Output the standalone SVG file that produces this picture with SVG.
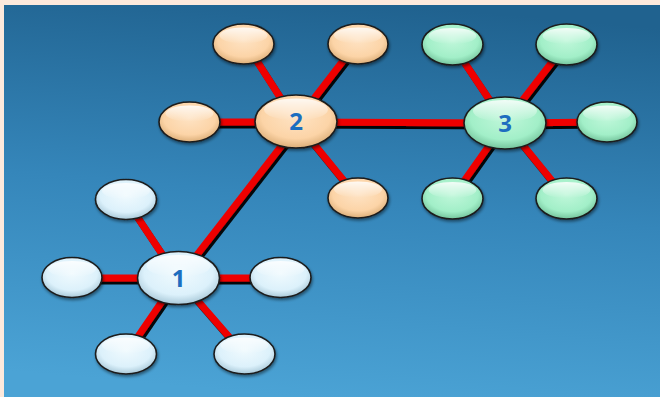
<svg xmlns="http://www.w3.org/2000/svg" width="660" height="397" viewBox="0 0 660 397">
  <defs>
    <linearGradient id="bg" x1="0.6" y1="0" x2="0.45" y2="1">
      <stop offset="0" stop-color="#20628f"/>
      <stop offset="0.5" stop-color="#3586ba"/>
      <stop offset="1" stop-color="#4ba3d5"/>
    </linearGradient>
    <radialGradient id="gPeach" cx="0.5" cy="0.4" r="0.6">
      <stop offset="0" stop-color="#fee3c4"/>
      <stop offset="0.7" stop-color="#fcd4a7"/>
      <stop offset="1" stop-color="#dcae78"/>
    </radialGradient>
    <radialGradient id="gMint" cx="0.5" cy="0.4" r="0.6">
      <stop offset="0" stop-color="#c0f7da"/>
      <stop offset="0.7" stop-color="#a2efc8"/>
      <stop offset="1" stop-color="#74c49c"/>
    </radialGradient>
    <radialGradient id="gIce" cx="0.5" cy="0.4" r="0.6">
      <stop offset="0" stop-color="#f0fafe"/>
      <stop offset="0.7" stop-color="#dcf1fb"/>
      <stop offset="1" stop-color="#a9c9d9"/>
    </radialGradient>
    <linearGradient id="gloss" x1="0" y1="0" x2="0" y2="1">
      <stop offset="0" stop-color="#ffffff" stop-opacity="0.85"/>
      <stop offset="1" stop-color="#ffffff" stop-opacity="0"/>
    </linearGradient>
    <filter id="lineShadow" x="-10%" y="-10%" width="120%" height="120%">
      <feDropShadow dx="2" dy="3" stdDeviation="0.6" flood-color="#000000" flood-opacity="0.95"/>
    </filter>
    <filter id="nodeShadow" x="-20%" y="-20%" width="140%" height="150%">
      <feDropShadow dx="1" dy="2" stdDeviation="1.5" flood-color="#000000" flood-opacity="0.45"/>
    </filter>
  </defs>
  <style>
    .edge { stroke: #ee0000; stroke-width: 7; stroke-linecap: butt; fill: none; }
    .node ellipse.body { stroke: #1c1c1c; stroke-width: 1.6; filter: url(#nodeShadow); }
    .peach ellipse.body { fill: url(#gPeach); }
    .mint ellipse.body { fill: url(#gMint); }
    .ice ellipse.body { fill: url(#gIce); }
    ellipse.hl { fill: url(#gloss); }
    .label { font-family: "Open Sans", "Liberation Sans", Arial, sans-serif; font-weight: bold; font-size: 24px; fill: #1d6ec0; text-anchor: middle; }
  </style>

  <!-- frame and backdrop -->
  <rect x="0" y="0" width="660" height="397" fill="#fde9dc"/>
  <rect x="4" y="5" width="656" height="392" fill="url(#bg)"/>

  <!-- connectors -->
  <g id="connectors" filter="url(#lineShadow)">
    <line class="edge" x1="179" y1="278" x2="300" y2="122"/>
    <line class="edge" x1="296" y1="122" x2="505" y2="123"/>
    <!-- hub 1 spokes -->
    <line class="edge" x1="178" y1="278" x2="126" y2="200"/>
    <line class="edge" x1="178" y1="278" x2="72" y2="278"/>
    <line class="edge" x1="178" y1="278" x2="281" y2="278"/>
    <line class="edge" x1="178" y1="278" x2="126" y2="354"/>
    <line class="edge" x1="178" y1="278" x2="244" y2="354"/>
    <!-- hub 2 spokes -->
    <line class="edge" x1="296" y1="122" x2="246" y2="44"/>
    <line class="edge" x1="296" y1="122" x2="356" y2="44"/>
    <line class="edge" x1="296" y1="122" x2="190" y2="122"/>
    <line class="edge" x1="296" y1="122" x2="358" y2="198"/>
    <!-- hub 3 spokes -->
    <line class="edge" x1="505" y1="123" x2="452" y2="44"/>
    <line class="edge" x1="505" y1="123" x2="566" y2="44"/>
    <line class="edge" x1="505" y1="123" x2="607" y2="122"/>
    <line class="edge" x1="505" y1="123" x2="452" y2="198"/>
    <line class="edge" x1="505" y1="123" x2="566" y2="198"/>
  </g>

  <!-- cluster 1 -->
  <g id="n1" class="node ice"><ellipse class="body" cx="178.5" cy="278" rx="41" ry="26.5"/><ellipse class="hl" cx="178.5" cy="266" rx="32" ry="11"/><text class="label" x="178.5" y="286.5">1</text></g>
  <g id="n1a" class="node ice"><ellipse class="body" cx="126" cy="199.5" rx="30.5" ry="20"/><ellipse class="hl" cx="126" cy="191" rx="24" ry="8"/></g>
  <g id="n1b" class="node ice"><ellipse class="body" cx="72" cy="277.5" rx="30" ry="20"/><ellipse class="hl" cx="72" cy="269" rx="24" ry="8"/></g>
  <g id="n1c" class="node ice"><ellipse class="body" cx="280.5" cy="277.5" rx="30.5" ry="20"/><ellipse class="hl" cx="280.5" cy="269" rx="24" ry="8"/></g>
  <g id="n1d" class="node ice"><ellipse class="body" cx="126" cy="354" rx="30.5" ry="20"/><ellipse class="hl" cx="126" cy="345.5" rx="24" ry="8"/></g>
  <g id="n1e" class="node ice"><ellipse class="body" cx="244.5" cy="354" rx="30.5" ry="20"/><ellipse class="hl" cx="244.5" cy="345.5" rx="24" ry="8"/></g>

  <!-- cluster 2 -->
  <g id="n2" class="node peach"><ellipse class="body" cx="296" cy="121.5" rx="41" ry="26.5"/><ellipse class="hl" cx="296" cy="109.5" rx="32" ry="11"/><text class="label" x="296" y="130">2</text></g>
  <g id="n2a" class="node peach"><ellipse class="body" cx="243.5" cy="44" rx="30.5" ry="20"/><ellipse class="hl" cx="243.5" cy="35.5" rx="24" ry="8"/></g>
  <g id="n2b" class="node peach"><ellipse class="body" cx="358" cy="44" rx="30" ry="20"/><ellipse class="hl" cx="358" cy="35.5" rx="24" ry="8"/></g>
  <g id="n2c" class="node peach"><ellipse class="body" cx="189.5" cy="122" rx="30.5" ry="20"/><ellipse class="hl" cx="189.5" cy="113.5" rx="24" ry="8"/></g>
  <g id="n2d" class="node peach"><ellipse class="body" cx="358" cy="198" rx="30" ry="20"/><ellipse class="hl" cx="358" cy="189.5" rx="24" ry="8"/></g>

  <!-- cluster 3 -->
  <g id="n3" class="node mint"><ellipse class="body" cx="505" cy="123" rx="41" ry="26"/><ellipse class="hl" cx="505" cy="111" rx="32" ry="11"/><text class="label" x="505" y="131.5">3</text></g>
  <g id="n3a" class="node mint"><ellipse class="body" cx="452.5" cy="44.5" rx="30.5" ry="20.5"/><ellipse class="hl" cx="452.5" cy="36" rx="24" ry="8"/></g>
  <g id="n3b" class="node mint"><ellipse class="body" cx="566.5" cy="44.5" rx="30.5" ry="20.5"/><ellipse class="hl" cx="566.5" cy="36" rx="24" ry="8"/></g>
  <g id="n3c" class="node mint"><ellipse class="body" cx="607" cy="122" rx="30" ry="20"/><ellipse class="hl" cx="607" cy="113.5" rx="24" ry="8"/></g>
  <g id="n3d" class="node mint"><ellipse class="body" cx="452.5" cy="198.5" rx="30.5" ry="20.5"/><ellipse class="hl" cx="452.5" cy="190" rx="24" ry="8"/></g>
  <g id="n3e" class="node mint"><ellipse class="body" cx="566.5" cy="198.5" rx="30.5" ry="20.5"/><ellipse class="hl" cx="566.5" cy="190" rx="24" ry="8"/></g>
</svg>
